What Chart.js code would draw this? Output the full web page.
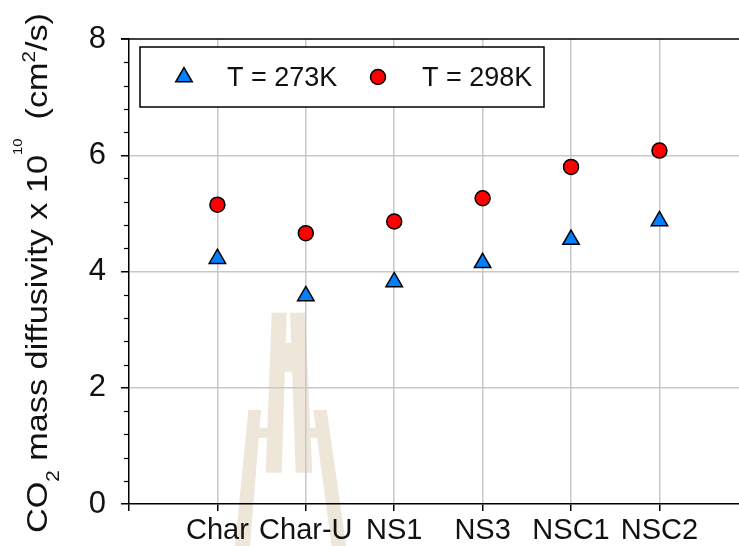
<!DOCTYPE html>
<html>
<head>
<meta charset="utf-8">
<script src="https://cdn.jsdelivr.net/npm/chart.js@4/dist/chart.umd.min.js"></script>
<style>
  html, body { margin: 0; padding: 0; background: #fff; overflow: hidden; }
  #wrap { width: 739px; height: 546px; position: relative; }
</style>
</head>
<body>
<div id="wrap"><canvas id="chart" width="739" height="546"></canvas></div>
<script>
// Samples and measured CO2 diffusivities (x 10^10 cm^2/s)
const categories = ['Char', 'Char-U', 'NS1', 'NS3', 'NSC1', 'NSC2'];
const diffusivity273K = [4.22, 3.58, 3.82, 4.15, 4.55, 4.87];
const diffusivity298K = [5.15, 4.66, 4.86, 5.26, 5.80, 6.08];
const seriesLabels = ['T = 273K', 'T = 298K'];
const yTickValues = [0, 2, 4, 6, 8];
const yMinorStep = 0.4;

const FONT = '"Liberation Sans", Arial, sans-serif';

// category i sits at x = i + 1 on a linear axis
const toPoints = vals => vals.map((v, i) => ({ x: i + 1, y: v }));

// faint university crest printed behind the figure
const crest = {
  id: 'crest',
  beforeDraw(chart) {
    const ctx = chart.ctx;
    const polys = [
      [[271.7,312.7],[286.7,312.7],[281.7,472.7],[265.7,472.7]],
      [[290,312.7],[305,312.7],[312.3,472.7],[295.7,472.7]],
      [[283.5,343],[293.5,343],[293.5,371.7],[283.5,371.7]],
      [[248.3,410],[261,410],[248.9,560],[233.6,560]],
      [[257,427.7],[271,427.7],[270,437.7],[256,437.7]],
      [[313.3,410],[326.7,410],[348.2,560],[333.5,560]],
      [[308,427.7],[318,427.7],[319.5,437.7],[309,437.7]]
    ];
    ctx.save();
    ctx.fillStyle = 'rgb(238,230,216)';
    polys.forEach(p => {
      ctx.beginPath();
      p.forEach(([x, y], i) => i ? ctx.lineTo(x, y) : ctx.moveTo(x, y));
      ctx.closePath();
      ctx.fill();
    });
    ctx.restore();
  }
};

// frame top, minor y ticks and the rotated axis title with sub/superscripts
const frame = {
  id: 'frame',
  afterDraw(chart) {
    const { ctx, chartArea } = chart;
    const y = chart.scales.y;
    ctx.save();
    ctx.strokeStyle = '#000';
    ctx.lineWidth = 1.5;
    ctx.beginPath();
    ctx.moveTo(chartArea.left - 8, chartArea.top);
    ctx.lineTo(chartArea.right, chartArea.top);
    ctx.stroke();

    ctx.lineWidth = 1.2;
    const nMinor = Math.round((y.max - y.min) / yMinorStep);
    for (let k = 0; k <= nMinor; k++) {
      const v = y.min + k * yMinorStep;
      if (yTickValues.some(t => Math.abs(t - v) < 1e-6)) continue;
      const py = Math.round(y.getPixelForValue(v)) + 0.5;
      ctx.beginPath();
      ctx.moveTo(chartArea.left - 5, py);
      ctx.lineTo(chartArea.left, py);
      ctx.stroke();
    }

    // y title
    const parts = [
      { t: 'CO', size: 30, shift: 0 },
      { t: '2', size: 18, shift: 12 },
      { t: ' mass diffusivity x 10', size: 30, shift: 0 },
      { t: '10', size: 13, shift: -25 },
      { t: '  (cm', size: 30, shift: 0 },
      { t: '2', size: 18, shift: -12 },
      { t: '/s)', size: 30, shift: 0 }
    ];
    let total = 0;
    parts.forEach(p => { ctx.font = p.size + 'px ' + FONT; p.w = ctx.measureText(p.t).width; total += p.w; });
    const titleLength = 520, centerY = 273, baseX = 47;
    const stretch = titleLength / total;
    ctx.translate(baseX, centerY);
    ctx.rotate(-Math.PI / 2);
    ctx.scale(stretch, 1);
    ctx.fillStyle = '#111';
    ctx.textBaseline = 'alphabetic';
    ctx.textAlign = 'left';
    let cx = -total / 2;
    parts.forEach(p => {
      ctx.font = p.size + 'px ' + FONT;
      ctx.fillText(p.t, cx, p.shift);
      cx += p.w;
    });
    ctx.restore();
  }
};

// boxed legend in the upper left of the plot
const legendBox = {
  id: 'legendBox',
  afterDatasetsDraw(chart) {
    const { ctx, chartArea } = chart;
    const left = chartArea.left + 11, top = chartArea.top + 8, w = 404, h = 60;
    ctx.save();
    ctx.fillStyle = '#fff';
    ctx.fillRect(left, top, w, h);
    ctx.strokeStyle = '#000';
    ctx.lineWidth = 1.5;
    ctx.strokeRect(left, top, w, h);
    const markX = [44, 238], textX = [87, 282];
    chart.data.datasets.forEach((ds, i) => {
      ctx.fillStyle = ds.backgroundColor;
      ctx.strokeStyle = ds.borderColor;
      ctx.lineWidth = ds.borderWidth;
      Chart.helpers.drawPoint(ctx, {
        pointStyle: ds.pointStyle, radius: ds.pointRadius, rotation: 0, borderWidth: ds.borderWidth
      }, left + markX[i], top + 30);
      ctx.fillStyle = '#111';
      ctx.font = '27px ' + FONT;
      ctx.textAlign = 'left';
      ctx.textBaseline = 'alphabetic';
      ctx.fillText(ds.label, left + textX[i], top + 39);
    });
    ctx.restore();
  }
};

new Chart(document.getElementById('chart'), {
  type: 'scatter',
  data: {
    datasets: [
      {
        label: seriesLabels[0],
        data: toPoints(diffusivity273K),
        pointStyle: 'triangle',
        pointRadius: 9.5,
        backgroundColor: 'rgb(0,128,255)',
        borderColor: '#000',
        borderWidth: 1.5
      },
      {
        label: seriesLabels[1],
        data: toPoints(diffusivity298K),
        pointStyle: 'circle',
        pointRadius: 7.5,
        backgroundColor: 'rgb(255,0,0)',
        borderColor: '#000',
        borderWidth: 1.5
      }
    ]
  },
  options: {
    responsive: false,
    devicePixelRatio: 1,
    animation: false,
    events: [],
    layout: { autoPadding: false, padding: { top: 39, left: 0, right: 0, bottom: 0 } },
    plugins: { legend: { display: false }, tooltip: { enabled: false } },
    scales: {
      x: {
        type: 'linear',
        min: 0,
        max: categories.length + 0.9,
        afterBuildTicks: s => { s.ticks = [0, ...categories.map((_, i) => i + 1)].map(v => ({ value: v })); },
        afterFit: s => { s.height = 42; s.paddingLeft = 0; s.paddingRight = 0; },
        ticks: {
          callback: (v, i) => categories[i - 1] || '',
          font: { family: FONT, size: 29 },
          color: '#111',
          padding: 3,
          maxRotation: 0,
          autoSkip: false
        },
        grid: {
          color: c => (c.tick && c.tick.value === 0) ? 'rgba(0,0,0,0)' : '#c8c8c8',
          lineWidth: 1.5,
          tickColor: '#000',
          tickWidth: 1.5,
          tickLength: 7
        },
        border: { color: '#000', width: 1.5 }
      },
      y: {
        min: 0,
        max: 8,
        afterBuildTicks: s => { s.ticks = yTickValues.map(v => ({ value: v })); },
        afterFit: s => { s.width = 129; },
        ticks: {
          font: { family: FONT, size: 31 },
          color: '#111',
          padding: 15
        },
        grid: {
          color: c => (c.tick && (c.tick.value === 0 || c.tick.value === 8)) ? 'rgba(0,0,0,0)' : '#c8c8c8',
          lineWidth: 1.5,
          tickColor: '#000',
          tickWidth: 1.5,
          tickLength: 8
        },
        border: { color: '#000', width: 1.5 }
      }
    }
  },
  plugins: [crest, frame, legendBox]
});
</script>
</body>
</html>
